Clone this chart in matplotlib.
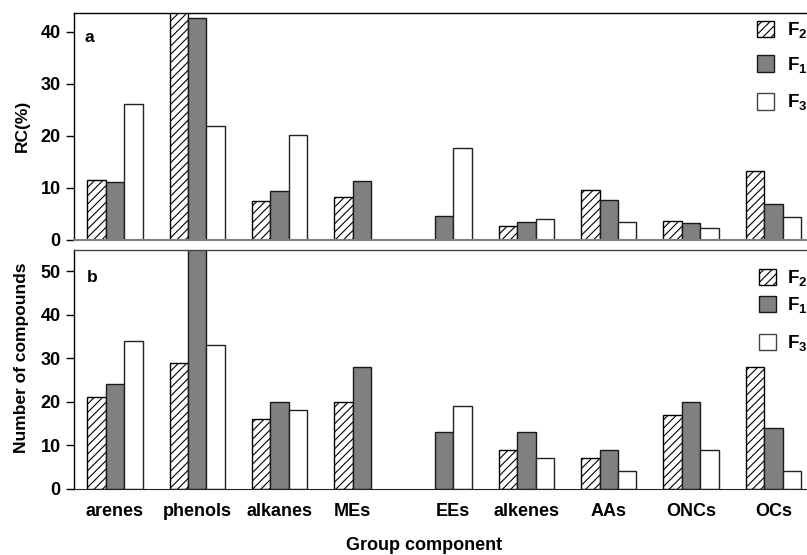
import matplotlib
matplotlib.use("Agg")
import matplotlib.pyplot as plt
from matplotlib.patches import Rectangle
import numpy as np

plt.rcParams['font.family'] = ['Liberation Sans', 'DejaVu Sans']
plt.rcParams['font.weight'] = 'bold'
plt.rcParams['mathtext.fontset'] = 'custom'
plt.rcParams['mathtext.rm'] = 'Liberation Sans:bold'
plt.rcParams['mathtext.bf'] = 'Liberation Sans:bold'
plt.rcParams['mathtext.it'] = 'Liberation Sans:bold'
plt.rcParams['hatch.linewidth'] = 0.8

categories = ['arenes', 'phenols', 'alkanes', 'MEs', 'EEs', 'alkenes', 'AAs', 'ONCs', 'OCs']

# Panel a: RC (%)
rc_F2 = [11.5, 44.5, 7.5, 8.3, 0, 2.6, 9.7, 3.6, 13.2]
rc_F1 = [11.1, 42.6, 9.5, 11.3, 4.7, 3.4, 7.7, 3.3, 6.9]
rc_F3 = [26.2, 22.0, 20.2, 0, 17.6, 4.1, 3.4, 2.4, 4.4]

# Panel b: number of compounds
n_F2 = [21, 29, 16, 20, 0, 9, 7, 17, 28]
n_F1 = [24, 57, 20, 28, 13, 13, 9, 20, 14]
n_F3 = [34, 33, 18, 0, 19, 7, 4, 9, 4]

rc_ticks = [0, 10, 20, 30, 40]
n_ticks = [0, 10, 20, 30, 40, 50]

W, H = 807, 555
fig = plt.figure(figsize=(W / 100, H / 100), dpi=100)

def fx(px):
    return px / W

def fy(py):
    return 1 - py / H

left_px, right_px = 74, 840
ax_a = fig.add_axes([fx(left_px), fy(240), fx(right_px - left_px), (240 - 13) / H])
ax_b = fig.add_axes([fx(left_px), fy(488.7), fx(right_px - left_px), (488.7 - 250) / H])

x = np.arange(len(categories))
bw = 0.224
xlim = (-0.498, 8.81)

def lws(vals):
    return [0 if v == 0 else 1.0 for v in vals]

def draw(ax, f2, f1, f3, ylim, ticks):
    ax.bar(x - bw, f2, bw, facecolor='white', edgecolor='black', hatch='////', linewidth=lws(f2))
    ax.bar(x, f1, bw, facecolor='#808080', edgecolor='#1a1a1a', linewidth=lws(f1))
    ax.bar(x + bw, f3, bw, facecolor='white', edgecolor='#222222', linewidth=lws(f3))
    ax.set_xlim(*xlim)
    ax.set_ylim(*ylim)
    ax.set_yticks(ticks)
    ax.tick_params(axis='y', direction='out', length=6, width=1, pad=3.5, labelsize=13)
    for lab in ax.get_yticklabels():
        lab.set_fontweight('bold')
    ax.spines['right'].set_visible(False)
    ax.spines['left'].set_linewidth(1.0)
    ax.spines['top'].set_linewidth(1.0)

draw(ax_a, rc_F2, rc_F1, rc_F3, (0, 43.65), rc_ticks)
draw(ax_b, n_F2, n_F1, n_F3, (0, 54.9), n_ticks)

ax_a.set_xticks([])
ax_a.spines['bottom'].set_color('#808080')
ax_a.spines['bottom'].set_linewidth(1.5)
ax_b.spines['top'].set_color('#444444')
ax_b.spines['bottom'].set_color('#222222')

tick_pos = list(x.astype(float))
tick_pos[3] = 3 - 0.115
tick_pos[4] = 4 + 0.11
ax_b.set_xticks(tick_pos)
ax_b.set_xticklabels(categories, fontsize=13, fontweight='bold')
ax_b.tick_params(axis='x', length=0, pad=10)

fig.text(fx(89), fy(37), 'a', fontsize=12.5, fontweight='bold', ha='center', va='center')
fig.text(fx(92), fy(277), 'b', fontsize=12.5, fontweight='bold', ha='center', va='center')

fig.text(fx(22), fy(126), 'RC(%)', rotation=90, fontsize=12.5, fontweight='bold', ha='center', va='center')
fig.text(fx(22), fy(358), 'Number of compounds', rotation=90, fontsize=12.5, fontweight='bold', ha='center', va='center')
fig.text(fx(424), fy(545), 'Group component', fontsize=13, fontweight='bold', ha='center', va='center')

# Legends
legend_labels = [r'$\mathbf{F_2}$', r'$\mathbf{F_1}$', r'$\mathbf{F_3}$']
legend_styles = [dict(facecolor='white', edgecolor='black', hatch='////'),
                 dict(facecolor='#808080', edgecolor='#1a1a1a'),
                 dict(facecolor='white', edgecolor='#444444')]

def legend(box_x, text_x, centers):
    for lab, st, cy in zip(legend_labels, legend_styles, centers):
        bh, bwid = 16, 17
        fig.add_artist(Rectangle((fx(box_x), fy(cy + bh / 2)), bwid / W, bh / H,
                                 transform=fig.transFigure, linewidth=1.0, **st))
        fig.text(fx(text_x), fy(cy + bh / 2 - 2), lab, fontsize=13.5, ha='left', va='baseline')

legend(757, 787, [29, 63.5, 101.5])
legend(759, 787, [276.5, 304, 342])

fig.savefig('out.png', dpi=100)
